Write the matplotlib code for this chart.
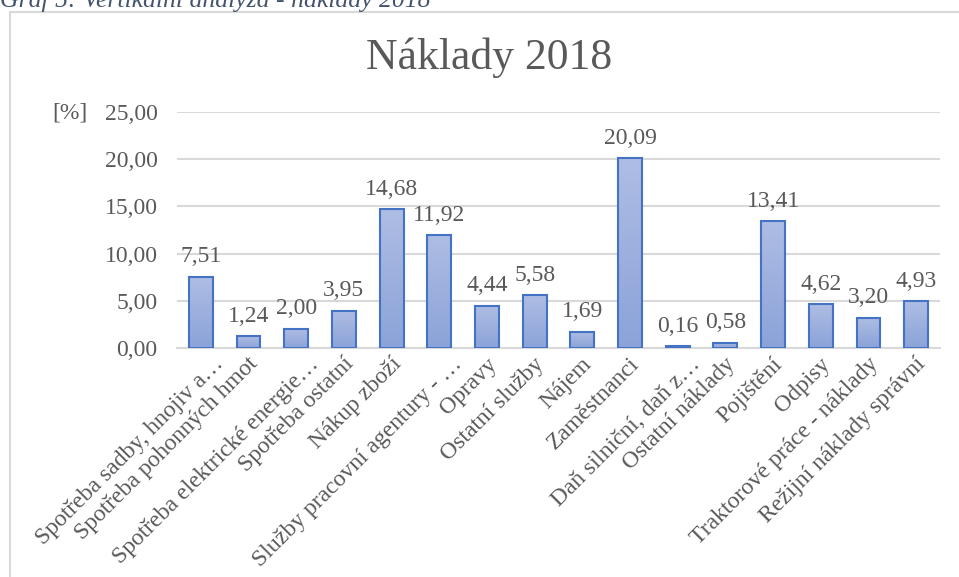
import matplotlib.pyplot as plt
import numpy as np
from matplotlib.patches import Rectangle
from matplotlib.transforms import ScaledTranslation
from matplotlib.colors import LinearSegmentedColormap

CATEGORIES = [
    "Spotřeba sadby, hnojiv a…",
    "Spotřeba pohonných hmot",
    "Spotřeba elektrické energie…",
    "Spotřeba ostatní",
    "Nákup zboží",
    "Služby pracovní agentury - …",
    "Opravy",
    "Ostatní služby",
    "Nájem",
    "Zaměstnanci",
    "Daň silniční, daň z…",
    "Ostatní náklady",
    "Pojištění",
    "Odpisy",
    "Traktorové práce - náklady",
    "Režijní náklady správní",
]
VALUES = [7.51, 1.24, 2.00, 3.95, 14.68, 11.92, 4.44, 5.58,
          1.69, 20.09, 0.16, 0.58, 13.41, 4.62, 3.20, 4.93]
Y_TICKS = [0, 5, 10, 15, 20, 25]

TEXT = "#595959"
GRID = "#d9d9d9"
EDGE = "#4472c4"


def fmt(v):
    return "{:.2f}".format(v).replace(".", ",")


plt.rcParams['font.family'] = ['Liberation Serif', 'DejaVu Serif']

fig = plt.figure(figsize=(9.59, 5.77), dpi=100)

# caption above the chart frame, cut off by the image edge
fig.text(0.0, 1 - 7 / 577, "Graf 5: Vertikální analýza - náklady 2018",
         fontsize=18.5, style='italic', color="#44546a", va='baseline')

# chart frame (runs off the right and bottom edges)
fig.patches.append(Rectangle((10 / 959, -0.1), 1.2, 1.1 - 12 / 577,
                             transform=fig.transFigure, fill=False,
                             edgecolor=GRID, linewidth=1.5))

ax = fig.add_axes([177 / 959, 1 - 348 / 577, 763 / 959, 236 / 577])
x = np.arange(len(VALUES))
bars = ax.bar(x, VALUES, width=0.5, facecolor='none', edgecolor=EDGE,
              linewidth=1.5, zorder=3)

# vertical gradient inside each bar
grad = np.linspace(0, 1, 256).reshape(-1, 1)
cmap = LinearSegmentedColormap.from_list('g', ["#8ba3d9", "#aebde3"])
for b in bars:
    x0, y0 = b.get_x(), b.get_y()
    w, h = b.get_width(), b.get_height()
    im = ax.imshow(grad, extent=[x0, x0 + w, y0, y0 + h], origin='lower',
                   cmap=cmap, aspect='auto', zorder=2)
    im.set_clip_path(b)

for xi, v in zip(x, VALUES):
    ax.annotate(fmt(v), (xi, v), xytext=(0, 7), textcoords='offset points',
                ha='center', va='bottom', fontsize=17, color=TEXT)

ax.set_xlim(-0.5, len(VALUES) - 0.5)
ax.set_ylim(0, 25)
ax.set_yticks(Y_TICKS)
ax.set_yticklabels([fmt(t) for t in Y_TICKS], fontsize=17, color=TEXT)
ax.set_xticks(x)
ax.set_xticklabels(CATEGORIES, rotation=45, ha='right', va='top',
                   rotation_mode='anchor', fontsize=17, color=TEXT)
ax.tick_params(axis='y', length=0, pad=14)
ax.tick_params(axis='x', length=0, pad=4)
# truncated labels (ending in an ellipsis) sit a bit further right
for lab in ax.get_xticklabels():
    dx = 0.12 if lab.get_text().endswith("…") else -0.01
    lab.set_transform(lab.get_transform() +
                      ScaledTranslation(dx, 0, fig.dpi_scale_trans))
ax.yaxis.grid(True, color=GRID, linewidth=1.5, zorder=0)
ax.set_axisbelow(True)
for s in ['top', 'right', 'left']:
    ax.spines[s].set_visible(False)
ax.spines['bottom'].set_color(GRID)
ax.spines['bottom'].set_linewidth(1.5)

fig.text(88 / 959, 1 - 113 / 577, "[%]", fontsize=17, color=TEXT,
         ha='right', va='center')
fig.text(489 / 959, 1 - 58 / 577, "Náklady 2018", fontsize=31.5, color=TEXT,
         ha='center', va='center')

plt.savefig('out.png', dpi=100)
